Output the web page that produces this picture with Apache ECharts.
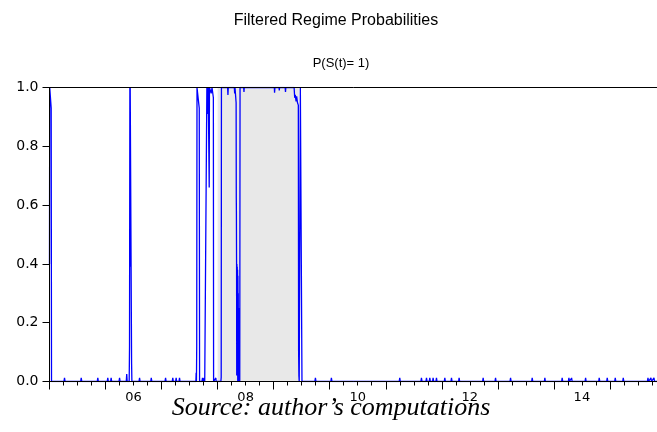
<!DOCTYPE html>
<html>
<head>
<meta charset="utf-8">
<script src="https://cdn.jsdelivr.net/npm/echarts@6/dist/echarts.min.js"></script>
<style>
  html, body { margin: 0; padding: 0; background: #fff; }
  #content { width: 657px; height: 432px; }
</style>
</head>
<body>
<div id="content"></div>
<script>
// 滤波概率 P(S(t)=1)，横轴为年份（小数表示）
var probDates = [
    2005.000, 2005.004, 2005.025, 2005.030, 2005.036,
    2006.370, 2006.378, 2006.386, 2006.422, 2006.428, 2006.434, 2006.437, 2006.440, 2006.460, 2006.465, 2006.470,
    2007.612, 2007.617, 2007.622, 2007.627, 2007.632, 2007.660, 2007.672, 2007.678,
    2007.800, 2007.808, 2007.820, 2007.826, 2007.832, 2007.846, 2007.850, 2007.854, 2007.885, 2007.900, 2007.924, 2007.928,
    2007.962, 2007.968, 2007.974, 2008.058, 2008.064, 2008.068,
    2008.178, 2008.184, 2008.190, 2008.298, 2008.304, 2008.310, 2008.326, 2008.330, 2008.333, 2008.335,
    2008.338, 2008.341, 2008.344, 2008.347, 2008.350, 2008.353, 2008.356, 2008.359, 2008.362, 2008.365,
    2008.368, 2008.371, 2008.374, 2008.378, 2008.384, 2008.390, 2008.395, 2008.400,
    2008.465, 2008.470, 2008.475, 2009.012, 2009.016, 2009.022, 2009.096, 2009.100, 2009.106,
    2009.205, 2009.211, 2009.217, 2009.365, 2009.375, 2009.385, 2009.400, 2009.410, 2009.425, 2009.440,
    2009.445, 2009.450, 2009.456, 2009.472, 2009.476, 2009.500, 2009.505,
    2015.840
];
var probValues = [
    0.40, 1.00, 1.00, 0.93, 0.00,
    0.00, 0.025, 0.00, 0.00, 0.12, 1.00, 0.39, 1.00, 1.00, 0.06, 0.00,
    0.00, 0.03, 0.00, 0.12, 1.00, 1.00, 0.93, 0.00,
    0.00, 1.00, 1.00, 0.91, 1.00, 1.00, 0.66, 1.00, 0.98, 1.00, 0.965, 0.00,
    0.00, 0.012, 0.00, 0.00, 0.015, 1.00,
    1.00, 0.975, 1.00, 1.00, 0.98, 1.00, 1.00, 0.948, 0.624, 0.574,
    0.407, 0.02, 0.40, 0.05, 0.39, 0.10, 0.38, 0.00, 0.36, 0.185,
    0.30, 0.01, 0.25, 0.015, 0.00, 0.13, 0.00, 1.00,
    1.00, 0.985, 1.00, 1.00, 0.982, 1.00, 1.00, 0.99, 1.00,
    1.00, 0.985, 1.00, 1.00, 0.965, 0.975, 0.953, 0.97, 0.948, 0.94,
    0.105, 0.02, 0.00, 0.00, 1.00, 1.00, 0.00,
    0.00
];

// 接近零的小跳点
var blipDates = [
    2005.268, 2005.566, 2005.862, 2006.040, 2006.100, 2006.250, 2006.607, 2006.816,
    2007.071, 2007.200, 2007.260, 2007.320, 2007.730, 2007.760,
    2009.745, 2010.030, 2011.250, 2011.637, 2011.727, 2011.786, 2011.845, 2011.905,
    2012.054, 2012.173, 2012.309, 2012.738, 2012.959, 2013.227, 2013.613, 2013.839,
    2014.148, 2014.268, 2014.316, 2014.566, 2014.809, 2014.952, 2015.095, 2015.238,
    2015.679, 2015.732, 2015.786
];
var blipValues = [
    0.012, 0.012, 0.012, 0.012, 0.012, 0.012, 0.012, 0.012,
    0.012, 0.012, 0.012, 0.012, 0.012, 0.012,
    0.012, 0.012, 0.012, 0.012, 0.012, 0.012, 0.012, 0.012,
    0.012, 0.012, 0.012, 0.012, 0.012, 0.012, 0.012, 0.012,
    0.012, 0.012, 0.012, 0.012, 0.012, 0.012, 0.012, 0.012,
    0.012, 0.012, 0.012
];

// 阴影区间
var shadeStart = 2008.0;
var shadeEnd = 2009.45;

var yTicks = [0, 0.2, 0.4, 0.6, 0.8, 1.0];

var points = [];
for (var i = 0; i < probDates.length; i++) {
    points.push([probDates[i], probValues[i]]);
}
for (var j = 0; j < blipDates.length; j++) {
    points.push([blipDates[j] - 0.01, 0]);
    points.push([blipDates[j], blipValues[j]]);
    points.push([blipDates[j] + 0.01, 0]);
}
points.sort(function(a, b) { return a[0] - b[0]; });

var myChart = echarts.init(document.getElementById("content"));

myChart.setOption({
    animation: false,
    backgroundColor: "#ffffff",
    title: [{
        text: "Filtered Regime Probabilities",
        left: 336,
        top: 13,
        textAlign: "center",
        padding: 0,
        textStyle: { fontFamily: "Liberation Sans", fontSize: 16, fontWeight: "normal", color: "#000" }
    }, {
        text: "P(S(t)= 1)",
        left: 341,
        top: 57,
        textAlign: "center",
        padding: 0,
        textStyle: { fontFamily: "Liberation Sans", fontSize: 13, fontWeight: "normal", color: "#000" }
    }, {
        text: "Source: author’s computations",
        left: 331,
        top: 395,
        textAlign: "center",
        padding: 0,
        textStyle: { fontFamily: "Liberation Serif", fontSize: 26, fontStyle: "italic", fontWeight: "normal", color: "#000" }
    }],
    grid: {
        left: 49.5,
        top: 87.5,
        right: 0,
        bottom: 50.5
    },
    xAxis: [{
        type: "value",
        min: 2005,
        max: 2015.84,
        interval: 1,
        z: 5,
        axisLine: { show: true, onZero: false, lineStyle: { color: "#000", width: 1 } },
        axisTick: { show: true, length: 8, lineStyle: { color: "#000" } },
        minorTick: { show: true, splitNumber: 4, length: 4, lineStyle: { color: "#000" } },
        splitLine: { show: false },
        axisLabel: {
            showMaxLabel: false,
            margin: 10,
            padding: [0, 0, 0, 56],
            fontFamily: "DejaVu Sans",
            fontSize: 13,
            color: "#000",
            formatter: function(v) {
                return v % 2 === 0 ? String(v).slice(2) : "";
            }
        }
    }, {
        type: "value",
        position: "top",
        min: 2005,
        max: 2015.84,
        z: 5,
        axisLine: { show: true, onZero: false, lineStyle: { color: "#000", width: 1 } },
        axisTick: { show: false },
        axisLabel: { show: false },
        splitLine: { show: false }
    }],
    yAxis: {
        type: "value",
        min: yTicks[0],
        max: yTicks[yTicks.length - 1],
        interval: 0.2,
        z: 5,
        axisLine: { show: true, lineStyle: { color: "#000", width: 1 } },
        axisTick: { show: true, length: 7, lineStyle: { color: "#000" } },
        splitLine: { show: false },
        axisLabel: {
            margin: 11,
            fontFamily: "DejaVu Sans",
            fontSize: 14,
            color: "#000",
            formatter: function(v) { return v.toFixed(1); }
        }
    },
    series: [{
        type: "line",
        name: "shade",
        z: 1,
        data: [],
        silent: true,
        markArea: {
            silent: true,
            itemStyle: { color: "#e8e8e8" },
            data: [[{ xAxis: shadeStart }, { xAxis: shadeEnd }]]
        }
    }, {
        type: "line",
        name: "P(S(t)= 1)",
        z: 2,
        data: points,
        showSymbol: false,
        symbol: "none",
        sampling: null,
        lineStyle: { color: "#0000ff", width: 1.3 },
        itemStyle: { color: "#0000ff" }
    }]
});
</script>
</body>
</html>
